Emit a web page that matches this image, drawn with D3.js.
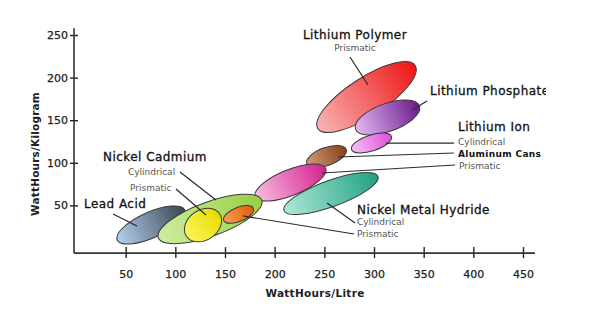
<!DOCTYPE html>
<html lang="en">
<head>
<meta charset="UTF-8">
<title>Battery energy density</title>
<script src="https://d3js.org/d3.v7.min.js"></script>
<style>
  body { margin: 0; background: #fff; }
  text { font-family: "DejaVu Sans", sans-serif; }
</style>
</head>
<body>
<svg id="chart" width="601" height="332"></svg>
<script>
// axis ticks
const xTicks = [50, 100, 150, 200, 250, 300, 350, 400, 450];
const yTicks = [50, 100, 150, 200, 250];

// each battery region: major axis from [WattHours/Litre, WattHours/Kilogram] to [.., ..], minor/major ratio
const regionNames = ["Lithium Polymer", "Lithium Phosphate", "Lithium Ion Cylindrical", "Lithium Ion Aluminum Cans",
  "Lithium Ion Prismatic", "Nickel Metal Hydride", "Lead Acid", "Nickel Cadmium Cylindrical",
  "Nickel Cadmium Prismatic", "Nickel Metal Hydride Prismatic"];
const regionFrom = [[243.5, 140.1], [281.4, 139.6], [277.4, 115.6], [232.4, 98.9], [180.5, 60.2],
  [209.4, 43.9], [41.5, 9.4], [82.9, 12.0], [111.3, 13.5], [148.7, 32.3]];
const regionTo = [[341.4, 214.3], [345.8, 166.8], [317.6, 130.9], [272.0, 115.8], [251.4, 93.5],
  [304.0, 84.0], [109.5, 44.6], [187.0, 56.1], [144.4, 40.5], [178.5, 46.4]];
const regionRatio = [0.33, 0.41, 0.38, 0.43, 0.34, 0.26, 0.35, 0.31, 0.75, 0.44];

// labels (data coordinates)
const bigLabels = [
  ["Lithium Polymer", 280.9, 250, "middle"],
  ["Lithium Phosphate", 356.4, 184.3, "start"],
  ["Lithium Ion", 384.6, 142.0, "start"],
  ["Nickel Metal Hydride", 282.9, 44.6, "start"],
  ["Nickel Cadmium", 27.2, 106.8, "start"],
  ["Lead Acid", 8.1, 51.6, "start"]
];
const smallLabels = [
  ["Prismatic", 280.9, 234.7, "middle"],
  ["Cylindrical", 384.6, 124.4, "start"],
  ["Prismatic", 385.6, 96.2, "start"],
  ["Cylindrical", 282.9, 30.5, "start"],
  ["Prismatic", 282.9, 16.4, "start"],
  ["Cylindrical", 52.3, 89.2, "start"],
  ["Prismatic", 54.4, 70.4, "start"]
];
const boldSmallLabels = [["Aluminum Cans", 384.6, 110.3, "start"]];
const leaders = [
  [[275.8, 224.2], [294.0, 191.3]],
  [[338.3, 162.0], [353.4, 172.5]],
  [[312.1, 123.2], [380.5, 123.2]],
  [[263.8, 106.8], [380.5, 111.5]],
  [[247.7, 88.0], [381.6, 97.4]],
  [[252.7, 52.8], [280.9, 29.3]],
  [[168.1, 37.6], [279.9, 16.4]],
  [[104.7, 89.2], [140.9, 56.3]],
  [[100.7, 69.2], [130.9, 38.7]],
  [[37.2, 39.9], [61.4, 25.8]]
];

// light end, dark end
const palette = [
  ["#f9b4b4", "#ee1616"], ["#e4b8f2", "#6a1a8a"], ["#f8c0f6", "#de4ed8"], ["#d09a78", "#8a4018"],
  ["#f8bce0", "#d4228e"], ["#ace8d8", "#22a282"], ["#b4d0ee", "#3a4652"], ["#cdeea0", "#98ce44"],
  ["#fbf55a", "#e6dc00"], ["#fa9e50", "#e45e08"]
];

const svg = d3.select("#chart");
const x = d3.scaleLinear().domain([0, 450]).range([76, 523]);
const y = d3.scaleLinear().domain([0, 250]).range([248, 35]);

const defs = svg.append("defs");
palette.forEach((c, i) => {
  const g = defs.append("linearGradient").attr("id", "grad" + i)
    .attr("x1", 0).attr("y1", 0).attr("x2", 1).attr("y2", 0);
  g.append("stop").attr("offset", "0%").attr("stop-color", c[0]);
  g.append("stop").attr("offset", "100%").attr("stop-color", c[1]);
});
// the original image is cut off on the right
defs.append("clipPath").attr("id", "clip")
  .append("rect").attr("x", 0).attr("y", 0).attr("width", 546).attr("height", 332);

// axes
const axisY = y(-6);
const xAxis = svg.append("g").attr("transform", `translate(0,${axisY})`)
  .call(d3.axisBottom(x).tickValues(xTicks).tickSize(5).tickPadding(12));
xAxis.select(".domain").remove();
xAxis.selectAll(".tick line").attr("y1", -6).attr("y2", 5).attr("stroke", "#222").attr("stroke-width", 1.4);
xAxis.selectAll(".tick text").attr("font-size", 11).attr("fill", "#222")
  .attr("stroke", "#222").attr("stroke-width", 0.25)
  .attr("font-family", "DejaVu Sans, sans-serif");
svg.append("line").attr("x1", x(-2)).attr("x2", x(462)).attr("y1", axisY).attr("y2", axisY)
  .attr("stroke", "#333").attr("stroke-width", 1.6);

const yAxis = svg.append("g").attr("transform", `translate(${x(-2)},0)`)
  .call(d3.axisLeft(y).tickValues(yTicks).tickSize(4).tickPadding(2));
yAxis.select(".domain").remove();
yAxis.selectAll(".tick line").attr("x1", -4).attr("x2", 4).attr("stroke", "#222").attr("stroke-width", 1.4);
yAxis.selectAll(".tick text").attr("font-size", 11).attr("fill", "#222")
  .attr("stroke", "#222").attr("stroke-width", 0.25)
  .attr("font-family", "DejaVu Sans, sans-serif");
svg.append("line").attr("x1", x(-2)).attr("x2", x(-2)).attr("y1", y(258)).attr("y2", axisY)
  .attr("stroke", "#333").attr("stroke-width", 1.6);

svg.append("text").attr("x", 315).attr("y", 297).attr("text-anchor", "middle")
  .attr("font-size", 10.5).attr("font-weight", "bold").attr("letter-spacing", 0.3)
  .attr("fill", "#222").text("WattHours/Litre");
svg.append("text").attr("transform", `translate(39,154) rotate(-90)`).attr("text-anchor", "middle")
  .attr("font-size", 10.5).attr("font-weight", "bold").attr("letter-spacing", 0.2)
  .attr("fill", "#222").text("WattHours/Kilogram");

// regions
const regions = regionNames.map((n, i) => {
  const x1 = x(regionFrom[i][0]), y1 = y(regionFrom[i][1]);
  const x2 = x(regionTo[i][0]), y2 = y(regionTo[i][1]);
  const a = Math.hypot(x2 - x1, y2 - y1) / 2;
  return {
    name: n, i: i, cx: (x1 + x2) / 2, cy: (y1 + y2) / 2, a: a, b: a * regionRatio[i],
    angle: Math.atan2(y2 - y1, x2 - x1) * 180 / Math.PI
  };
});

svg.append("g").selectAll("ellipse")
  .data(regions)
  .join("ellipse")
  .attr("cx", 0).attr("cy", 0)
  .attr("rx", d => d.a).attr("ry", d => d.b)
  .attr("transform", d => `translate(${d.cx},${d.cy}) rotate(${d.angle})`)
  .attr("fill", d => `url(#grad${d.i})`)
  .attr("stroke", "#3a3a3a").attr("stroke-width", 1);

// leader lines
svg.append("g").selectAll("line")
  .data(leaders)
  .join("line")
  .attr("x1", d => x(d[0][0])).attr("y1", d => y(d[0][1]))
  .attr("x2", d => x(d[1][0])).attr("y2", d => y(d[1][1]))
  .attr("stroke", "#2a2a2a").attr("stroke-width", 1.2);

// labels
function drawLabels(list, size, weight, color, spacing, thick, clip) {
  svg.append("g").attr("clip-path", clip ? "url(#clip)" : null).selectAll("text")
    .data(list)
    .join("text")
    .attr("x", d => x(d[1])).attr("y", d => y(d[2]))
    .attr("dy", "0.35em")
    .attr("text-anchor", d => d[3])
    .attr("font-size", size).attr("font-weight", weight).attr("fill", color)
    .attr("letter-spacing", spacing)
    .attr("stroke", color).attr("stroke-width", thick)
    .text(d => d[0]);
}
drawLabels(bigLabels, 12, "normal", "#111", 0.45, 0.3, true);
drawLabels(smallLabels, 9, "normal", "#555", 0, 0, false);
drawLabels(boldSmallLabels, 9, "bold", "#111", 0.35, 0, false);
</script>
</body>
</html>
